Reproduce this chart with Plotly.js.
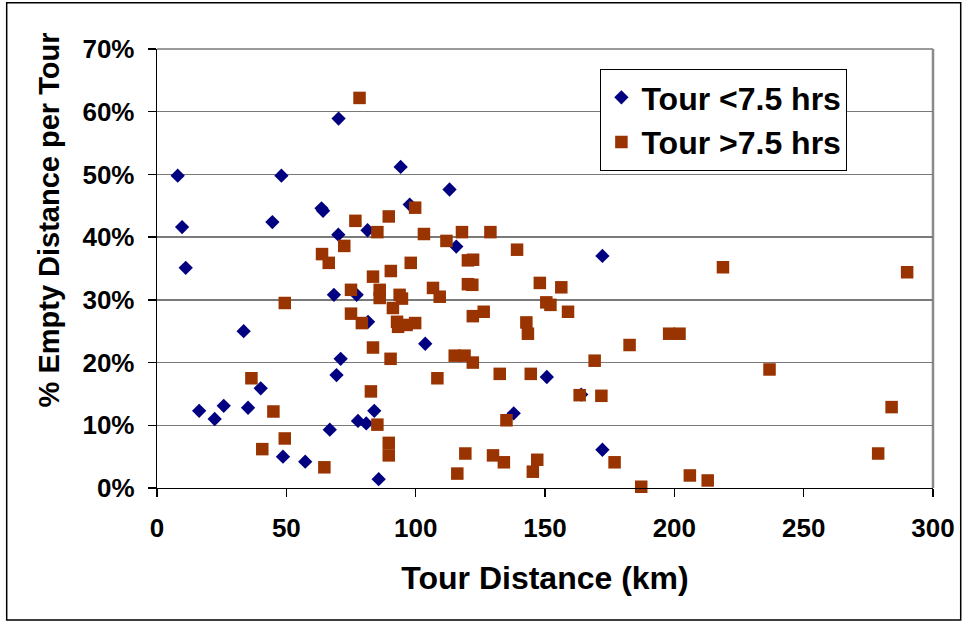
<!DOCTYPE html>
<html>
<head>
<meta charset="utf-8">
<script src="https://cdn.plot.ly/plotly-3.0.1.min.js"></script>
<style>
  html, body { margin: 0; padding: 0; background: #fff; }
  #chart { width: 963px; height: 623px; }
</style>
</head>
<body>
<div id="chart"></div>
<script>
// Series names
const seriesShort = "Tour <7.5 hrs";
const seriesLong = "Tour >7.5 hrs";

// Tour <7.5 hrs: tour distance (km) and % empty distance
const shortDist = [8.0, 9.7, 11.1, 16.3, 22.3, 25.8, 33.5, 35.2, 40.1, 44.6, 48.1, 48.7, 57.3,
  63.6, 64.2, 66.8, 68.4, 69.4, 70.2, 70.1, 71.0, 77.2, 77.7, 80.9, 81.4, 81.6, 84.0, 85.7,
  94.2, 97.7, 103.7, 113.1, 115.7, 137.9, 150.7, 164.0, 172.2, 172.2];
const shortEmpty = [49.8, 41.6, 35.1, 12.3, 11.0, 13.1, 25.0, 12.8, 15.9, 42.4, 49.8, 5.0, 4.2,
  44.6, 44.2, 9.3, 30.8, 18.0, 58.9, 40.4, 20.6, 30.8, 10.7, 10.3, 41.1, 26.5, 12.3, 1.4,
  51.2, 45.2, 23.0, 47.6, 38.5, 11.9, 17.7, 14.9, 37.0, 6.1];

// Tour >7.5 hrs
const longDist = [78.3, 76.7, 89.6, 85.2, 99.8, 103.2, 63.8, 66.4, 72.4, 90.4, 98.1, 83.5,
  75.0, 86.1, 86.1, 93.8, 94.7, 91.2, 49.4, 75.0, 79.2, 92.8, 93.2, 96.5, 99.8, 83.5, 90.3,
  36.5, 82.7, 45.0, 85.2, 49.4, 89.6, 89.6, 40.7, 64.7, 111.9, 117.9, 128.9, 139.2, 120.2,
  122.2, 106.7, 109.3, 120.2, 121.9, 148.0, 156.3, 150.5, 152.1, 158.9, 122.1, 126.3, 142.8,
  143.4, 182.7, 198.0, 202.0, 115.1, 118.9, 122.1, 169.2, 108.4, 132.5, 144.5, 163.4, 171.8,
  135.1, 119.2, 129.9, 134.1, 147.0, 145.3, 116.1, 176.9, 187.2, 218.8, 290.0, 236.8, 284.0,
  278.8, 206.0, 212.9];
const longEmpty = [62.2, 42.6, 43.3, 40.8, 44.7, 40.5, 37.3, 35.9, 38.6, 34.6, 35.9, 33.7,
  31.6, 31.6, 30.3, 30.8, 30.2, 28.7, 29.5, 27.8, 26.3, 26.5, 25.7, 26.0, 26.3, 22.4, 20.6,
  17.5, 15.4, 12.2, 10.1, 7.9, 7.2, 5.2, 6.2, 3.3, 39.4, 40.8, 40.8, 38.0, 36.3,
  36.4, 31.9, 30.5, 32.5, 32.4, 32.7, 32.0, 29.6, 29.2, 28.1, 27.4, 28.1, 26.4,
  24.6, 22.8, 24.6, 24.6, 21.1, 21.1, 20.0, 20.3, 17.5, 18.2, 18.2, 14.8, 14.7,
  10.8, 5.5, 5.2, 4.1, 4.5, 2.6, 2.3, 4.1, 0.2, 35.2, 34.4, 18.9, 12.9,
  5.5, 2.0, 1.2];

// Axis text
const xTitle = "Tour Distance (km)";
const yTitle = "% Empty Distance per Tour";
const xTickVals = [0, 50, 100, 150, 200, 250, 300];
const yTickVals = [0, 10, 20, 30, 40, 50, 60, 70];

const FONT = "Liberation Sans, Arial, Helvetica, sans-serif";

const traces = [
  {
    type: "scatter", mode: "markers", name: seriesShort,
    x: shortDist, y: shortEmpty, cliponaxis: false,
    marker: { symbol: "diamond", size: 11, color: "#000080", line: { width: 0 } }
  },
  {
    type: "scatter", mode: "markers", name: seriesLong,
    x: longDist, y: longEmpty, cliponaxis: false,
    marker: { symbol: "square", size: 12.5, color: "#993300", line: { width: 0 } }
  }
];

const layout = {
  width: 963, height: 623,
  margin: { l: 157, r: 30, t: 49, b: 135, pad: 0 },
  paper_bgcolor: "#ffffff", plot_bgcolor: "#ffffff",
  font: { family: FONT, color: "#000", size: 26, weight: "bold" },
  showlegend: true,
  legend: {
    x: 0.5714, y: 0.9544, xanchor: "left", yanchor: "top",
    bgcolor: "#ffffff", bordercolor: "#000", borderwidth: 1,
    font: { family: FONT, size: 32, weight: "bold", color: "#000" },
    itemwidth: 30, tracegroupgap: 0
  },
  xaxis: {
    range: [0, 300], tickvals: xTickVals, ticktext: xTickVals.map(String),
    showgrid: false, zeroline: false,
    showline: true, linecolor: "#000", linewidth: 1.3,
    ticks: "outside", ticklen: 8, tickwidth: 1.3, tickcolor: "#000",
    tickfont: { family: FONT, size: 26, weight: "bold" },
    ticklabelstandoff: 8,
    title: { text: xTitle, font: { family: FONT, size: 32, weight: "bold" }, standoff: 25 },
    automargin: false, fixedrange: true
  },
  yaxis: {
    range: [0, 70], tickvals: yTickVals, ticktext: yTickVals.map(v => v + "%"),
    showgrid: true, gridcolor: "#7a7a7a", gridwidth: 1.3,
    zeroline: false,
    showline: true, linecolor: "#000", linewidth: 1.3,
    ticks: "outside", ticklen: 8, tickwidth: 1.3, tickcolor: "#000",
    tickfont: { family: FONT, size: 26, weight: "bold" },
    ticklabelstandoff: 8,
    automargin: false, fixedrange: true
  },
  annotations: [
    { text: yTitle, xref: "paper", yref: "paper", x: -0.1396, y: 0.611,
      xanchor: "center", yanchor: "middle", textangle: -90, showarrow: false,
      font: { family: FONT, size: 29, weight: "bold", color: "#000" } }
  ],
  shapes: [
    // outer chart frame
    { type: "rect", xref: "paper", yref: "paper", x0: -0.1937, x1: 1.0357, y0: -0.3009, y1: 1.1055,
      line: { color: "#000", width: 1.5 }, fillcolor: "rgba(0,0,0,0)", layer: "below" },
    // top and right plot-area border
    { type: "line", xref: "paper", yref: "paper", x0: 0, x1: 1, y0: 1, y1: 1,
      line: { color: "#9a9a9a", width: 2 } , layer: "below"},
    { type: "line", xref: "paper", yref: "paper", x0: 1, x1: 1, y0: 0, y1: 1,
      line: { color: "#8a8a8a", width: 2.5 }, layer: "below" }
  ]
};

Plotly.newPlot("chart", traces, layout, { displayModeBar: false, staticPlot: true });
</script>
</body>
</html>
